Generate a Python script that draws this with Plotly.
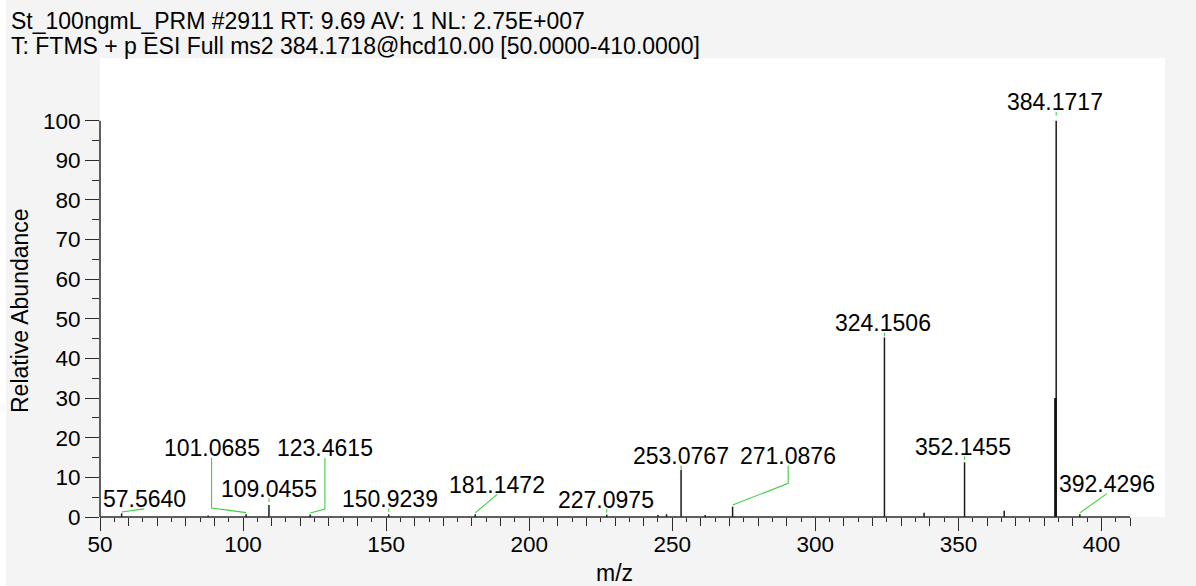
import plotly.graph_objects as go

# ---- spectrum data -------------------------------------------------------
PEAK_MZ = [57.5640, 87.8, 101.0685, 109.0455, 123.4615, 150.9239, 181.1472,
           227.0975, 245.0, 248.0, 253.0767, 261.5, 271.0876, 324.1506,
           338.0, 352.1455, 366.0, 383.9, 384.1717, 392.4296]
PEAK_INT = [0.9, 0.4, 0.7, 3.0, 0.6, 0.6, 0.7,
            0.6, 0.5, 0.7, 11.9, 0.5, 2.6, 45.3,
            1.1, 13.8, 1.6, 30.0, 100.0, 0.7]

# annotated peaks (m/z shown as label text)
LABEL_MZ = [57.5640, 101.0685, 109.0455, 123.4615, 150.9239, 181.1472,
            227.0975, 253.0767, 271.0876, 324.1506, 352.1455, 384.1717,
            392.4296]

# label placement (data units) and optional leader elbow height
LABEL_X = [65.4, 89.0, 109.1, 128.6, 151.4, 188.8, 226.8, 253.0, 290.5,
           323.8, 351.7, 383.8, 401.9]
LABEL_Y = [4.55, 17.4, 7.1, 17.4, 4.55, 8.2, 4.4, 15.4, 15.4, 48.9, 17.75,
           104.6, 8.4]
LEADER_ELBOW = [None, 2.27, None, 2.02, None, None, None, None, 8.51,
                None, None, None, None]

TITLE_LINES = ["St_100ngmL_PRM #2911 RT: 9.69 AV: 1 NL: 2.75E+007",
               "T: FTMS + p ESI Full ms2 384.1718@hcd10.00 [50.0000-410.0000]"]
X_TITLE = "m/z"
Y_TITLE = "Relative Abundance"

X_MAJOR = [50, 100, 150, 200, 250, 300, 350, 400]
X_MID = [v for v in range(60, 411, 10) if v % 50]
X_MINOR = list(range(55, 410, 10))
Y_MAJOR = list(range(0, 101, 10))
Y_MINOR = list(range(5, 100, 10))

# ---- geometry --------------------------------------------------------------
W, H = 1196, 586
ML, MR, MT, MB = 100, 31, 58, 69
X_RANGE = [50, 422.2]
Y_RANGE = [0, 115.8]
PW, PH = W - ML - MR, H - MT - MB

FONT = "Liberation Sans, Arial, sans-serif"
FS = 23
FS_TICK = 22.5
AX = "#2b2b2b"
GREEN = "#3fcf3f"
BG = "#f4f4f4"

fig = go.Figure()

# stick spectrum
sx, sy = [], []
for m, h in zip(PEAK_MZ, PEAK_INT):
    sx += [m, m, None]
    sy += [0, h, None]
fig.add_trace(go.Scatter(x=sx, y=sy, mode="lines",
                         line=dict(color="#1a1a1a", width=1.5),
                         hoverinfo="skip", showlegend=False))

# thicker shoulder under the base peak
idx = PEAK_MZ.index(383.9)
fig.add_trace(go.Scatter(x=[PEAK_MZ[idx], PEAK_MZ[idx]], y=[0, PEAK_INT[idx]],
                         mode="lines", line=dict(color="#111111", width=2.4),
                         hoverinfo="skip", showlegend=False))

# green leader lines from peaks to their labels
lx_all, ly_all = [], []
for m, lx, ly, elbow in zip(LABEL_MZ, LABEL_X, LABEL_Y, LEADER_ELBOW):
    h = PEAK_INT[PEAK_MZ.index(m)]
    if elbow is not None:
        pts = [(m, h + 0.4), (lx, elbow), (lx, ly - 2.5)]
    elif abs(lx - m) > 2.5:
        pts = [(m, h + 0.35), (lx, ly - 2.5)]
    else:
        pts = [(m, ly - 2.4), (m, ly - 3.3)]
    for px, py in pts:
        lx_all.append(px)
        ly_all.append(py)
    lx_all.append(None)
    ly_all.append(None)
fig.add_trace(go.Scatter(x=lx_all, y=ly_all, mode="lines",
                         line=dict(color=GREEN, width=1.1),
                         hoverinfo="skip", showlegend=False))

# empty trace that carries the short 5-unit ticks on an overlaid x axis
fig.add_trace(go.Scatter(x=[], y=[], xaxis="x2", showlegend=False,
                         hoverinfo="skip"))

annotations = []
for m, lx, ly in zip(LABEL_MZ, LABEL_X, LABEL_Y):
    annotations.append(dict(x=lx, y=ly, xref="x", yref="y",
                            text=f"{m:.4f}", showarrow=False,
                            xanchor="center", yanchor="middle",
                            font=dict(family=FONT, size=FS, color="black")))


def px_x(p):
    return (p - ML) / PW


def px_y(p):
    return (H - MB - p) / PH


for i, line in enumerate(TITLE_LINES):
    annotations.append(dict(x=px_x(9), y=px_y(21 + 25 * i), xref="paper",
                            yref="paper", text=line, showarrow=False,
                            xanchor="left", yanchor="middle",
                            font=dict(family=FONT, size=FS, color="black")))

annotations.append(dict(x=px_x(614), y=px_y(573), xref="paper", yref="paper",
                        text=X_TITLE, showarrow=False, xanchor="center",
                        yanchor="middle",
                        font=dict(family=FONT, size=FS, color="black")))
annotations.append(dict(x=px_x(20), y=px_y(311), xref="paper", yref="paper",
                        text=Y_TITLE, showarrow=False, textangle=-90,
                        xanchor="center", yanchor="middle",
                        font=dict(family=FONT, size=FS, color="black")))

shapes = [
    # axis lines: y stops at 100, x stops at 410
    dict(type="line", xref="paper", yref="y", x0=0, x1=0, y0=0, y1=100,
         line=dict(color=AX, width=1.5)),
    dict(type="line", xref="x", yref="paper", x0=50, x1=410, y0=0, y1=0,
         line=dict(color=AX, width=1.5)),
    # thin white strip on the left edge of the page
    dict(type="rect", xref="paper", yref="paper", x0=px_x(0), x1=px_x(6),
         y0=px_y(H), y1=px_y(0), fillcolor="white", line=dict(width=0),
         layer="above"),
]

tickfont = dict(family=FONT, size=FS_TICK, color="black")

fig.update_layout(
    width=W, height=H, autosize=False,
    margin=dict(l=ML, r=MR, t=MT, b=MB, pad=0),
    paper_bgcolor=BG, plot_bgcolor="white",
    showlegend=False,
    annotations=annotations,
    shapes=shapes,
    xaxis=dict(range=X_RANGE, tickmode="array", tickvals=X_MAJOR,
               ticks="outside", ticklen=13, tickwidth=1.4, tickcolor=AX,
               tickfont=tickfont, showgrid=False, zeroline=False,
               showline=False, ticklabelstandoff=-6,
               minor=dict(tickmode="array", tickvals=X_MID, ticks="outside",
                          ticklen=8, tickwidth=1.4, tickcolor=AX,
                          showgrid=False)),
    xaxis2=dict(range=X_RANGE, overlaying="x", anchor="y", side="bottom",
                tickmode="array", tickvals=X_MINOR, ticks="outside",
                ticklen=4, tickwidth=1.4, tickcolor=AX,
                showticklabels=False, showgrid=False, zeroline=False,
                showline=False),
    yaxis=dict(range=Y_RANGE, tickmode="array", tickvals=Y_MAJOR,
               ticks="outside", ticklen=14, tickwidth=1.4, tickcolor=AX,
               tickfont=tickfont, showgrid=False, zeroline=False,
               showline=False,
               minor=dict(tickmode="array", tickvals=Y_MINOR,
                          ticks="outside", ticklen=7, tickwidth=1.4,
                          tickcolor=AX, showgrid=False)),
)

fig.write_html("out.html")
